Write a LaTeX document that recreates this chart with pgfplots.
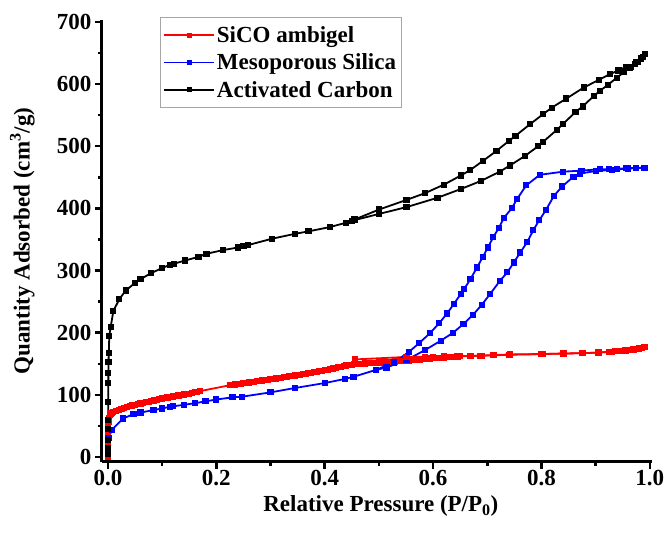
\documentclass[border=0pt]{standalone}
\usepackage{fontspec}
\setmainfont{Liberation Serif}
\usepackage{pgfplots}
\pgfplotsset{compat=1.18}
\begin{document}
\begin{tikzpicture}
\begin{axis}[name=ax, width=550pt, height=442pt, scale only axis,
  xmin=-0.011, xmax=1.004, ymin=-8, ymax=703,
  axis x line*=bottom, axis y line*=left,
  axis line style={line width=3pt, -},
  xtick={0,0.2,0.4,0.6,0.8,1}, minor xtick={0.1,0.3,0.5,0.7,0.9},
  ytick={0,100,200,300,400,500,600,700}, minor ytick={50,150,250,350,450,550,650},
  tick align=outside, major tick length=7pt, minor tick length=4pt,
  every tick/.style={line width=2.5pt, black},
  /pgf/number format/assume math mode=true,
  xticklabel style={/pgf/number format/.cd, fixed, fixed zerofill, precision=1, /tikz/.cd, yshift=2pt},
  yticklabel style={/pgf/number format/.cd, fixed, precision=0},
  tick label style={font=\bfseries\fontsize{23}{27}\selectfont},
  label style={font=\bfseries\fontsize{23}{27}\selectfont},
  xlabel={Relative Pressure (P/P\textsubscript{0})},
  ylabel={Quantity Adsorbed (cm\textsuperscript{3}/g)},
  xlabel style={at={(axis description cs:0.507,-0.099)}, anchor=center},
  ylabel style={at={(axis description cs:-0.145,0.5)}, anchor=center},
  clip=false,
  legend style={at={(axis description cs:0.105,1.007)}, anchor=north west,
    draw=gray!70, line width=0.8pt, font=\bfseries\fontsize{23}{27}\selectfont,
    inner xsep=3pt, inner ysep=7pt, row sep=6pt, cells={anchor=west}},
  legend image code/.code={\draw[mark repeat=2,mark phase=2,#1,mark size=1.6pt] plot coordinates {(0pt,0pt)(25pt,0pt)(50pt,0pt)};},
  every axis plot/.append style={line width=1.8pt, mark=square*, mark size=2.2pt},
]
% SiCO ambigel adsorption
\addplot[red, mark options={fill=red, draw=red}] coordinates {
(0.0,0)(0.0,5)(0.0,12)(0.0001,20)(0.0002,30)(0.0004,40)(0.0007,50)(0.001,57)(0.002,63)(0.004,67)(0.006,70)(0.008,71)
(0.01,72)(0.015,74)(0.02,76)(0.025,77.5)(0.03,79)(0.035,80.5)(0.04,82)(0.045,83)(0.05,84)(0.055,85)(0.06,86)(0.065,87)
(0.07,88)(0.075,89)(0.08,90)(0.085,91)(0.09,92)(0.095,93)(0.10,94)(0.105,95)(0.11,95.7)(0.115,96.5)(0.12,97.3)(0.125,98)
(0.13,99)(0.135,99.8)(0.14,100.5)(0.145,101.3)(0.15,102)(0.155,103)(0.16,104)(0.165,105)(0.17,106)
(0.225,115.5)(0.23,116)(0.235,116.7)(0.24,117.3)(0.245,118)(0.25,118.5)(0.255,119.2)(0.26,120)(0.265,120.5)(0.27,121)
(0.275,121.7)(0.28,122.3)(0.285,123)(0.29,123.7)(0.295,124.3)(0.30,125)(0.305,125.7)(0.31,126.3)(0.315,127)(0.32,127.7)
(0.325,128.3)(0.33,129)(0.335,129.7)(0.34,130.4)(0.345,131)(0.35,131.8)(0.355,132.5)(0.36,133.3)(0.365,134)(0.37,134.8)
(0.375,135.6)(0.38,136.4)(0.385,137.2)(0.39,138)(0.395,138.8)(0.40,139.6)(0.405,140.5)(0.41,141.4)(0.415,142.3)(0.42,143.2)
(0.425,144.2)(0.43,145.2)(0.435,146.2)(0.44,147.2)(0.445,148)(0.45,148.5)(0.455,149)(0.46,149.4)(0.465,149.8)(0.47,150.1)
(0.475,150.4)(0.48,150.7)(0.485,151)(0.49,151.3)(0.495,151.6)(0.50,151.9)(0.505,152.2)(0.51,152.5)(0.515,152.8)(0.52,153.1)
(0.525,153.4)(0.53,153.7)(0.535,154)(0.54,154.3)(0.545,154.7)(0.55,155)(0.555,155.4)(0.56,155.8)(0.565,156.2)(0.57,156.6)
(0.575,157)(0.58,157.4)(0.585,157.8)(0.59,158.2)(0.595,158.6)(0.60,159)(0.605,159.3)(0.61,159.6)(0.615,159.9)(0.62,160.2)
(0.625,160.5)(0.63,160.8)(0.635,161.1)(0.64,161.4)(0.645,161.7)(0.65,162)
(0.67,162.5)(0.69,163)(0.71,163.5)(0.74,164.5)(0.80,165.5)(0.84,166.5)(0.875,167)(0.905,168)(0.925,169)(0.93,169.5)
(0.935,170)(0.94,170.3)(0.945,170.7)(0.95,171)(0.955,171.5)(0.96,172)(0.965,172.5)(0.97,173)(0.975,173.7)(0.98,174.5)
(0.985,175.3)(0.99,176.5)
};
\addlegendentry{SiCO ambigel}
% Mesoporous silica adsorption
\addplot[blue, mark options={fill=blue, draw=blue}] coordinates {
(0.001,30)(0.007,43.5)(0.028,62)(0.047,69)(0.06,71.5)(0.084,75.5)(0.1,78)(0.114,81)(0.12,81.5)(0.14,84)(0.16,86.5)
(0.18,89.5)(0.2,92.5)(0.23,96)(0.247,97)(0.30,104)(0.345,111)(0.40,119)(0.437,125.5)(0.453,129)(0.494,140)(0.514,144)
(0.551,156)(0.585,172)(0.614,187)(0.637,200)(0.656,214)(0.674,229)(0.690,245)(0.705,262)(0.723,283)(0.737,297)
(0.749,313)(0.761,329)(0.774,346)(0.785,365)(0.796,381)(0.808,397)(0.823,420)(0.838,435)(0.859,451)(0.871,456)
(0.90,460)(0.93,462)(0.96,464)(0.99,465.5)
};
\addlegendentry{Mesoporous Silica}
% Activated carbon adsorption
\addplot[black, mark options={fill=black, draw=black}] coordinates {
(0.0,5)(0.0,15)(0.0001,28)(0.0002,45)(0.0003,60)(0.0005,89)(0.0007,119)(0.0008,135)(0.0010,153)(0.0015,167)
(0.0025,195)(0.005,209)(0.01,235)(0.021,254)(0.033,268)(0.05,280)(0.06,286)(0.08,296)(0.10,304)(0.114,309)
(0.122,311)(0.142,316)(0.167,322)(0.182,327)(0.213,333)(0.24,337)(0.25,340)(0.259,341)(0.302,351)(0.345,359)
(0.37,363)(0.41,370)(0.44,377)(0.45,380)(0.50,391)(0.551,402)(0.608,417)(0.651,431)(0.688,444)(0.723,459)
(0.742,469)(0.769,484)(0.794,500)(0.803,507)(0.828,526)(0.840,536)(0.863,555)(0.876,564)(0.897,581)(0.908,589)
(0.923,599)(0.939,610)(0.952,619)(0.963,626.5)(0.975,636)(0.983,642)(0.991,648)
};
\addlegendentry{Activated Carbon}
% desorption branches
\addplot[red, mark options={fill=red, draw=red}, forget plot] coordinates {
(0.99,176.5)(0.985,175.5)(0.98,174.7)(0.975,174)(0.97,173.3)(0.965,172.7)(0.96,172)(0.95,171)(0.94,170.5)(0.926,169.5)
(0.906,168)(0.876,167)(0.841,166.5)(0.802,165.7)(0.742,165)(0.713,164)(0.686,163)(0.668,162.5)(0.645,162.5)(0.62,162)
(0.6,161.5)(0.585,161.5)(0.551,161)(0.456,157)
};
\addplot[blue, mark options={fill=blue, draw=blue}, forget plot] coordinates {
(0.99,465.5)(0.975,465)(0.957,464.6)(0.939,463.5)(0.925,463)(0.908,463)(0.874,460.7)(0.840,459)(0.797,454)(0.772,437)
(0.755,415)(0.745,400)(0.731,385)(0.721,368)(0.711,353.5)(0.701,337)(0.692,322)(0.681,305)(0.669,286)(0.657,270)
(0.651,262)(0.638,246)(0.626,231)(0.611,215)(0.594,199)(0.574,183)(0.556,169.5)(0.528,152)(0.494,140)
};
\addplot[black, mark options={fill=black, draw=black}, forget plot] coordinates {
(0.991,648)(0.987,644)(0.983,640)(0.978,636)(0.972,632)(0.965,628)(0.957,628)(0.942,621.7)(0.926,615.8)(0.906,606.7)
(0.878,594.3)(0.846,576.6)(0.819,562)(0.803,551.5)(0.779,535.4)(0.752,516.6)(0.740,508.5)(0.717,492.4)(0.692,476.3)
(0.668,461.3)(0.651,452.7)(0.620,438.2)(0.585,424.4)(0.551,413.6)(0.50,398)(0.455,382)
};
\end{axis}
\pgfresetboundingbox
\path ([xshift=-102pt,yshift=-80pt]ax.south west) rectangle ([xshift=15pt,yshift=20pt]ax.north east);
\end{tikzpicture}
\end{document}
